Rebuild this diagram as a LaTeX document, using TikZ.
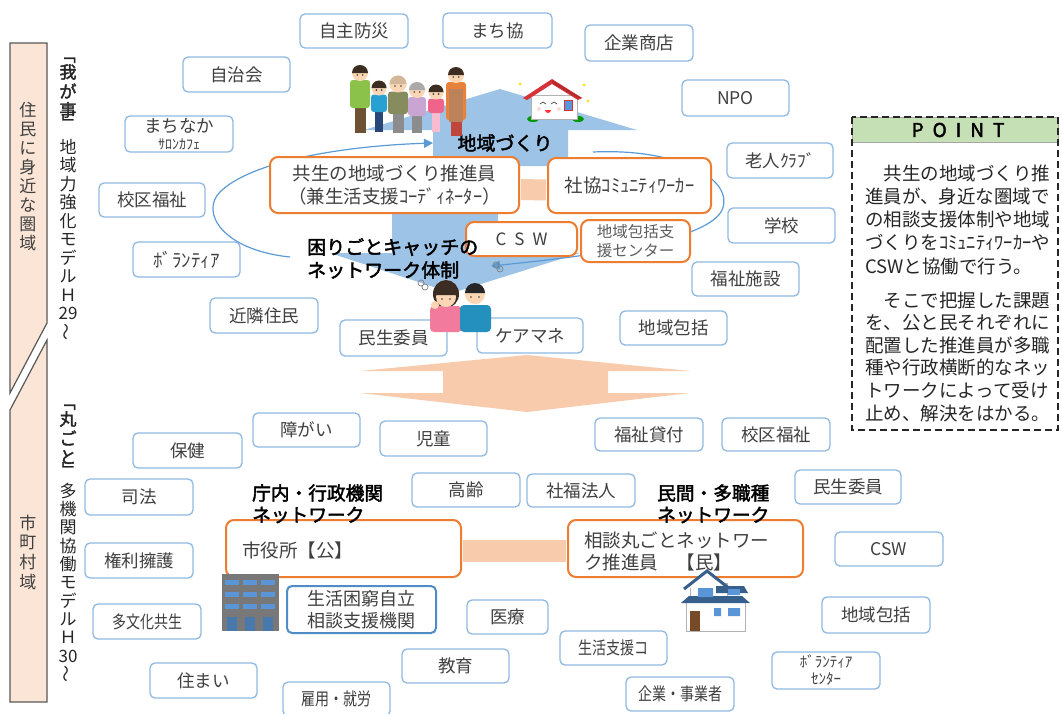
\documentclass[tikz,border=0pt]{standalone}
\usepackage{fontspec}
\usepackage{graphicx}
\setmainfont{Noto Sans CJK JP}
\newfontfamily\heavy[FakeBold=2.2]{Noto Sans CJK JP}
\usetikzlibrary{arrows.meta}

\definecolor{tagline}{RGB}{143,185,226}
\definecolor{deepblue}{RGB}{80,140,200}
\definecolor{hubline}{RGB}{237,125,49}
\definecolor{peach}{RGB}{248,203,173}
\definecolor{arrowblue}{RGB}{157,195,230}
\definecolor{curveblue}{RGB}{91,155,213}
\definecolor{pointgreen}{RGB}{197,224,180}
\definecolor{bandfill}{RGB}{251,229,214}
\definecolor{bandline}{RGB}{89,89,89}
\definecolor{ink}{RGB}{64,64,64}
\definecolor{pointink}{RGB}{38,38,38}
\definecolor{skin}{RGB}{250,214,180}
\definecolor{darkhair}{RGB}{60,45,35}
\definecolor{famgreen}{RGB}{139,195,74}
\definecolor{brownpants}{RGB}{110,80,50}
\definecolor{boyblue}{RGB}{40,160,210}
\definecolor{navy}{RGB}{40,70,120}
\definecolor{olive}{RGB}{135,140,95}
\definecolor{graypants}{RGB}{140,140,140}
\definecolor{lavender}{RGB}{200,165,210}
\definecolor{grayhair}{RGB}{170,170,170}
\definecolor{pinkshirt}{RGB}{240,100,140}
\definecolor{lightpink}{RGB}{248,187,208}
\definecolor{orangeshirt}{RGB}{230,130,60}
\definecolor{apron}{RGB}{190,130,90}
\definecolor{redlegs}{RGB}{190,70,60}
\definecolor{roofred}{RGB}{215,50,55}
\definecolor{roofblue}{RGB}{55,95,140}
\definecolor{winblue}{RGB}{90,150,215}
\definecolor{doorbrown}{RGB}{120,75,40}
\definecolor{bldgray}{RGB}{120,120,120}

\newcommand\jfs[2]{\fontsize{#1}{#2}\selectfont}
\newcommand\squeeze[1]{\scalebox{0.8}[1]{#1}}
\newcommand\hv[1]{{\heavy #1}}
\newcommand\openbr{\rotatebox[origin=c]{-90}{「}}
\newcommand\closebr{\rotatebox[origin=c]{-90}{」}}
\newcommand\vtilde{\rotatebox[origin=c]{90}{～}}

% rounded box given by its corners: [options]{name}{x1}{y1}{x2}{y2}{text}
\newcommand\tagbox[7][]{%
  \pgfmathsetmacro\tbx{(#3+#5)/2}\pgfmathsetmacro\tby{(#4+#6)/2}%
  \pgfmathsetmacro\tbw{#5-#3}\pgfmathsetmacro\tbh{#6-#4}%
  \node[tag,minimum width=\tbw pt,minimum height=\tbh pt,#1] (#2) at (\tbx,\tby) {#7};}
\newcommand\hubbox[7][]{%
  \pgfmathsetmacro\tbx{(#3+#5)/2}\pgfmathsetmacro\tby{(#4+#6)/2}%
  \pgfmathsetmacro\tbw{#5-#3}\pgfmathsetmacro\tbh{#6-#4}%
  \node[hub,minimum width=\tbw pt,minimum height=\tbh pt,#1] (#2) at (\tbx,\tby) {#7};}

% simple standing figure: x, head y, head r, half width, torso bottom, foot y, shirt, legs, hair
\newcommand\person[9]{%
  \fill[#8] ({#1-#4*0.55},{#5-2}) rectangle ({#1+#4*0.55},#6);
  \fill[#7,rounded corners=3pt] ({#1-#4},{#2+#3-1}) rectangle ({#1+#4},#5);
  \fill[skin] (#1,#2) circle (#3pt);
  \fill[#9] ({#1-#3},{#2}) arc (180:0:#3pt) -- cycle;
  \fill[black!75] ({#1-#3*0.35},{#2+2}) circle (0.9pt) ({#1+#3*0.35},{#2+2}) circle (0.9pt);
}

\begin{document}
\begin{tikzpicture}[x=1pt,y=-1pt,
  tag/.style={draw=tagline,line width=1.3pt,rounded corners=5pt,fill=white,inner sep=0pt,align=center,text=ink,font=\jfs{17.5}{20}},
  hub/.style={draw=hubline,line width=2pt,rounded corners=8pt,fill=white,inner sep=0pt,align=center,text=ink,font=\jfs{18.5}{23}},
  link/.style={peach,shorten <=1pt,shorten >=1pt},
  callout/.style={inner sep=0pt,text=black,font=\heavy\jfs{19}{23}},
  hubtext/.style={inner sep=0pt,anchor=west,text=ink,font=\jfs{18.5}{22}},
  pointtext/.style={inner sep=0pt,anchor=base west,text=pointink,font=\jfs{18.5}{23}},
  vchar/.style={inner sep=0pt,text=ink,font=\jfs{17}{18}},
  arc/.style={draw=curveblue,line width=1.2pt,-{Triangle[length=9pt,width=9pt]}},
]
\useasboundingbox (0,0) rectangle (1062,713);
\fill[white] (0,0) rectangle (1062,713);

% ---- side band with the two levels
\filldraw[fill=bandfill,draw=bandline,line width=1.2pt] (10,43) -- (47,43) -- (47,323) -- (10,393) -- cycle;
\filldraw[fill=bandfill,draw=bandline,line width=1.2pt] (10,410) -- (47,340) -- (47,702) -- (10,702) -- cycle;
\foreach \c [count=\i] in {住,民,に,身,近,な,圏,域}
  \node[vchar] (near\i) at (28,{110+19*(\i-1)}) {\c};
\foreach \c [count=\i] in {市,町,村,域}
  \node[vchar] (city\i) at (28,{523+19.6*(\i-1)}) {\c};

% ---- vertical model titles
\foreach \y/\c [count=\i] in {55/\hv{\openbr},72/\hv{我},91/\hv{が},110/\hv{事},123/\hv{\closebr},
  147/地,165.5/域,184/力,202.5/強,221/化,239.5/モ,258/デ,276.5/ル,295/Ｈ,313.5/29,332/\vtilde}
  \node[vchar,text=black!85] (ma\i) at (68,\y) {\c};
\foreach \y/\c [count=\i] in {402/\hv{\openbr},419/\hv{丸},438/\hv{ご},457/\hv{と},470/\hv{\closebr},
  491/多,509.3/機,527.6/関,546/協,564/働,582.5/モ,601/デ,619/ル,637.5/Ｈ,656/30,674/\vtilde}
  \node[vchar,text=black!85] (mb\i) at (68,\y) {\c};

% ---- big blue arrows (community building up, catching troubles down)
\fill[arrowblue] (500,89) -- (637,130) -- (568,130) -- (568,166) -- (433,166) -- (433,130) -- (364,130) -- cycle;
\fill[arrowblue] (392,205) -- (498,205) -- (498,253) -- (580,253) -- (452,293) -- (330,253) -- (392,253) -- cycle;

% ---- peach two-way arrow between the levels
\fill[peach] (527,355) -- (690,371) -- (608,371) -- (608,393) -- (690,393) -- (527,412)
  -- (360,393) -- (443,393) -- (443,371) -- (360,371) -- cycle;

% ---- circulating arcs
\coordinate (la) at (290,257); \coordinate (lb) at (433,143);
\coordinate (ra) at (593,152); \coordinate (rb) at (491,266);
\draw[arc] (la) .. controls (222,250) and (200,212) .. (220,192) .. controls (250,162) and (340,146) .. (lb);
\draw[arc] (ra) .. controls (680,148) and (735,180) .. (722,210) .. controls (708,240) and (600,255) .. (rb);

% ---- upper network members
\tagbox{jishu}{300}{14}{408}{48}{自主防災}
\tagbox{machikyo}{443}{13}{552}{48}{まち協}
\tagbox{shoten}{585}{25}{693}{61}{企業商店}
\tagbox{npo}{682}{80}{789}{116}{NPO}
\tagbox{jichi}{183}{57}{290}{92}{自治会}
\tagbox{salon}{125}{116}{233}{152}{まちなか\\[-3pt]{\jfs{14}{15}ｻﾛﾝｶﾌｪ}}
\tagbox{kouku}{99}{183}{205}{217}{校区福祉}
\tagbox[font=\jfs{19}{20}]{vol}{133}{242}{240}{277}{ﾎﾞﾗﾝﾃｨｱ}
\tagbox{kinrin}{210}{298}{318}{333}{近隣住民}
\tagbox{minsei}{340}{320}{447}{356}{民生委員}
\tagbox{caremane}{477}{318}{583}{353}{ケアマネ}
\tagbox{houkatsu}{620}{311}{727}{345}{地域包括}
\tagbox{roujin}{727}{143}{833}{178}{老人ｸﾗﾌﾞ}
\tagbox{gakkou}{728}{208}{835}{243}{学校}
\tagbox{shisetsu}{692}{262}{799}{296}{福祉施設}

% ---- municipal network members
\tagbox{hoken}{133}{433}{242}{468}{保健}
\tagbox{shougai}{253}{413}{360}{447}{障がい}
\tagbox{jidou}{380}{421}{487}{456}{児童}
\tagbox{shihou}{85}{479}{193}{515}{司法}
\tagbox{kourei}{412}{473}{520}{507}{高齢}
\tagbox{kenri}{85}{543}{193}{578}{権利擁護}
\tagbox{tabunka}{93}{604}{201}{639}{\squeeze{多文化共生}}
\tagbox{sumai}{150}{663}{257}{698}{住まい}
\tagbox{koyou}{283}{682}{390}{716}{\squeeze{雇用・就労}}
\tagbox{kyouiku}{402}{649}{509}{683}{教育}
\tagbox{iryou}{467}{600}{548}{634}{医療}
\tagbox{kashitsuke}{595}{418}{703}{451}{福祉貸付}
\tagbox{koukub}{722}{418}{830}{451}{校区福祉}
\tagbox{shafuku}{527}{474}{635}{507}{社福法人}
\tagbox{minseib}{795}{470}{901}{504}{民生委員}
\tagbox{cswb}{835}{532}{943}{566}{CSW}
\tagbox{houkatsub}{822}{597}{930}{633}{地域包括}
\tagbox{shienco}{560}{631}{667}{665}{\squeeze{生活支援コ}}
\tagbox[font=\jfs{15}{17}]{volc}{772}{652}{880}{689}{ﾎﾞﾗﾝﾃｨｱ\\ｾﾝﾀｰ}
\tagbox{jigyou}{626}{677}{734}{711}{\squeeze{企業・事業者}}
\tagbox[draw=deepblue,line width=2pt,font=\jfs{18}{22}]{konkyu}{287}{586}{436}{633}{生活困窮自立\\相談支援機関}

% ---- core workers and their links
\hubbox{coord}{270}{157}{519}{213}{共生の地域づくり推進員\\（兼生活支援ｺｰﾃﾞｨﾈｰﾀｰ）}
\hubbox{cw}{548}{158}{711}{213}{社協ｺﾐｭﾆﾃｨﾜｰｶｰ}
\hubbox{city}{226}{520}{461}{577}{}
\hubbox{net}{568}{520}{803}{577}{}
\draw[link,line width=21pt] ([yshift=-4.5pt]coord.east) -- ([yshift=-4.5pt]cw.west);
\draw[link,line width=22pt] ([yshift=-2.5pt]city.east) -- ([yshift=-2.5pt]net.west);
\hubbox[font=\jfs{17}{20}]{csw}{466}{222}{577}{256}{C\hspace{8pt}S\hspace{8pt}W}
\hubbox[font=\jfs{15.5}{18.5},align=left,text=ink!85]{hkc}{581}{220}{690}{262}{地域包括支\\援センター}
\node[hubtext] (citytext) at (242,550) {市役所【公】};
\node[hubtext] (nettexta) at (584,540) {相談丸ごとネットワー};
\node[hubtext] (nettextb) at (584,562) {ク推進員　【民】};

% ---- bold captions
\node[callout] (machi) at (505,143) {地域づくり};
\node[callout,anchor=west] (catcha) at (307,247) {困りごとキャッチの};
\node[callout,anchor=west] (catchb) at (307,270) {ネットワーク体制};
\node[callout,anchor=west,font=\heavy\jfs{18.7}{22}] (gova) at (252,493) {庁内・行政機関};
\node[callout,anchor=west,font=\heavy\jfs{18.7}{22}] (govb) at (252,515) {ネットワーク};
\node[callout,anchor=west,font=\heavy\jfs{18.7}{22}] (priva) at (657,493) {民間・多職種};
\node[callout,anchor=west,font=\heavy\jfs{18.7}{22}] (privb) at (657,515) {ネットワーク};

% ---- residents group
\person{360}{73}{8}{10}{108}{133}{famgreen}{brownpants}{darkhair}
\person{379}{88}{7.5}{8}{112}{132}{boyblue}{navy}{darkhair}
\person{398}{84}{8.5}{10}{114}{133}{olive}{graypants}{skin!85!black}
\person{417}{90}{8}{9}{116}{133}{lavender}{graypants}{grayhair}
\person{436}{92}{7.5}{8}{113}{132}{pinkshirt}{lightpink}{darkhair}
\person{456}{75}{8}{10}{120}{136}{orangeshirt}{redlegs}{darkhair}
\fill[apron] (449,89) rectangle (463,122);

% ---- smiling house
\fill[green!60!black] (533,119) ellipse (6pt and 3pt) (578,119) ellipse (6pt and 3pt);
\filldraw[fill=white,draw=gray!60,line width=0.6pt] (531,95) rectangle (577,119);
\fill[roofred] (523,98) -- (552,79) -- (582,98) -- (578,100) -- (552,84) -- (527,100) -- cycle;
\fill[roofred!85!black] (552,80) -- (582,98) -- (577,98) -- (552,83) -- cycle;
\draw[black!70,line width=0.7pt] (540,104) -- (543,102) -- (546,104) (551,104) -- (554,102) -- (557,104);
\fill[red!80] (545,110) arc (180:360:3pt) -- cycle;
\fill[pink!60] (539,109) circle (2pt) (559,109) circle (2pt);
\filldraw[fill=winblue,draw=roofred,line width=0.6pt] (564,100) rectangle (572,110);
\fill[yellow!80!orange] (520,84) circle (1.5pt) (584,85) circle (1.5pt) (588,101) circle (1.5pt);

% ---- worried couple
\fill[darkhair] (446,294) ellipse (13pt and 14pt);
\fill[pinkshirt!85!white,rounded corners=4pt] (430,306) rectangle (462,332);
\fill[skin] (446,297) circle (10pt);
\fill[darkhair] (436,295) arc (180:0:10pt) -- cycle;
\fill[skin] (435,305) circle (4pt);
\fill[black!75] (442,299) circle (0.9pt) (450,299) circle (0.9pt);
\fill[boyblue!90!black,rounded corners=4pt] (460,305) rectangle (491,332);
\fill[skin] (475,294) circle (10pt);
\fill[black!85] (465,293) arc (180:0:10pt) -- cycle;
\fill[black!75] (471,297) circle (0.9pt) (479,297) circle (0.9pt);
\draw[gray,line width=0.7pt] (421,283) circle (3pt) (425,287) circle (3pt) (496,265) circle (3pt) (500,269) circle (3pt);

% ---- city hall building
\fill[bldgray] (222,574) rectangle (279,631);
\foreach \bx in {225,243,261}{
  \foreach \by in {580,592,604}
    \fill[winblue] (\bx,\by) rectangle (\bx+14,\by+5);
  \fill[winblue!80!black] (\bx+2,617) rectangle (\bx+12,631);
}

% ---- private house
\filldraw[fill=white,draw=gray!60,line width=0.6pt] (686,600) rectangle (745,631);
\filldraw[fill=white,draw=gray!60,line width=0.6pt] (690,583) rectangle (727,600);
\fill[white] (686,588) -- (707,572) -- (728,588) -- cycle;
\draw[roofblue,line width=3pt,line join=miter] (684,589) -- (707,571) -- (730,589);
\fill[roofblue] (716,586) -- (744,586) -- (748,593) -- (716,593) -- cycle;
\fill[roofblue] (681,603) -- (689,596) -- (742,596) -- (750,603) -- cycle;
\fill[winblue] (698,588) rectangle (713,597) (728,589) rectangle (740,595);
\fill[winblue] (714,608) rectangle (721,616) (728,608) rectangle (740,616);
\fill[doorbrown] (690,611) rectangle (700,631);

% ---- POINT panel
\filldraw[fill=pointgreen,draw=gray!70,line width=0.8pt] (852,117) rectangle (1058,142);
\node[callout,text=black] (pointhead) at (958,130) {P\hspace{9pt}O\hspace{9pt}I\hspace{9pt}N\hspace{9pt}T};
\draw[black!85,line width=1.6pt,dash pattern=on 7pt off 4pt] (852,117) rectangle (1058,430);
\node[pointtext] (pa1) at (865,180) {　共生の地域づくり推};
\node[pointtext] (pa2) at (865,203.3) {進員が、身近な圏域で};
\node[pointtext] (pa3) at (865,226.6) {の相談支援体制や地域};
\node[pointtext] (pa4) at (865,249.9) {づくりをｺﾐｭﾆﾃｨﾜｰｶｰや};
\node[pointtext] (pa5) at (865,273.2) {CSWと協働で行う。};
\node[pointtext] (pb1) at (865,307) {　そこで把握した課題};
\node[pointtext] (pb2) at (865,329.6) {を、公と民それぞれに};
\node[pointtext] (pb3) at (865,352.2) {配置した推進員が多職};
\node[pointtext] (pb4) at (865,374.8) {種や行政横断的なネッ};
\node[pointtext] (pb5) at (865,397.4) {トワークによって受け};
\node[pointtext] (pb6) at (865,420) {止め、解決をはかる。};
\end{tikzpicture}
\end{document}
